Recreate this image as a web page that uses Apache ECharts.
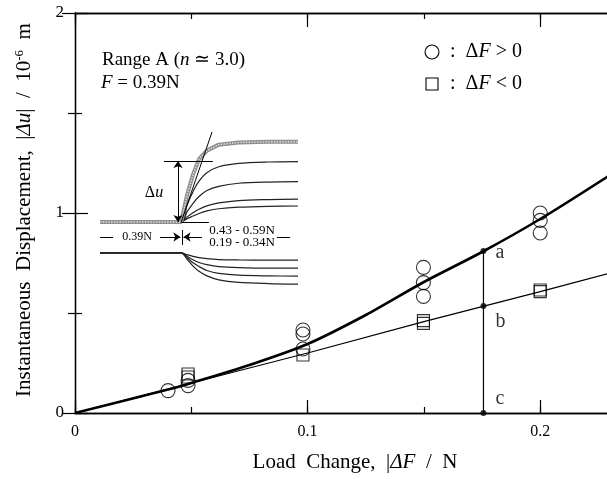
<!DOCTYPE html>
<html>
<head>
<meta charset="utf-8">
<script src="https://cdn.jsdelivr.net/npm/echarts@6/dist/echarts.min.js"></script>
<style>
html, body { margin: 0; padding: 0; background: #fff; }
#main { width: 607px; height: 479px; }
</style>
</head>
<body>
<div id="main"></div>
<script>
// 测点: ΔF > 0 (circles)
const riseLoad = [0.040, 0.0486, 0.0486, 0.098, 0.098, 0.098, 0.1498, 0.1498, 0.1498, 0.200, 0.200, 0.200];
const riseDisp = [0.112, 0.137, 0.163, 0.415, 0.395, 0.320, 0.728, 0.652, 0.583, 1.000, 0.963, 0.900];
// 测点: ΔF < 0 (squares)
const dropLoad = [0.0486, 0.0486, 0.098, 0.1498, 0.1498, 0.200, 0.200];
const dropDisp = [0.195, 0.180, 0.290, 0.462, 0.448, 0.615, 0.607];
// fitted curves
const riseFitLoad = [0, 0.04, 0.05, 0.075, 0.1, 0.125, 0.15, 0.175, 0.2, 0.23];
const riseFitDisp = [0, 0.117, 0.150, 0.240, 0.345, 0.490, 0.655, 0.805, 0.970, 1.190];
const dropFitLoad = [0, 0.05, 0.1, 0.15, 0.2, 0.23];
const dropFitDisp = [0, 0.150, 0.300, 0.457, 0.607, 0.700];
// a, b, c
const cutLoad = 0.1756;
const cutDisp = [0.81, 0.535, 0];
const cutNames = ['a', 'b', 'c'];

// inset traces (arbitrary units)
const traceTime = [0, 41, 44, 47, 50, 54, 60, 70, 85, 100];
const upGray = [40, 40, 56, 68, 77, 82, 85.5, 86.8, 87.2, 87.2];
const upTraces = [
    [40, 40, 50, 58, 64, 69, 72.5, 74.5, 75.3, 75.5],
    [40, 40, 46, 51, 55, 58.5, 61, 62.8, 63.5, 63.7],
    [40, 40, 43, 45.5, 47.5, 49.5, 51.2, 52.6, 53.2, 53.5],
    [40, 40, 42, 43.5, 45, 46.5, 47.8, 48.7, 49.2, 49.4]
];
const downTraces = [
    [21.8, 21.8, 20.8, 19.8, 19.0, 18.4, 17.9, 17.7, 17.6, 17.6],
    [21.8, 21.8, 19.8, 17.8, 16.2, 14.9, 13.8, 13.2, 12.9, 12.9],
    [21.8, 21.8, 19.0, 16.0, 13.8, 11.5, 9.8, 8.7, 8.3, 8.2],
    [21.8, 21.8, 18.0, 14.0, 11.0, 8.3, 6.0, 4.5, 3.8, 3.5]
];
const tangentLine = [[41, 40], [56.6, 93]];
const duArrow = [[39.4, 40], [39.4, 75.9]];
const guideLines = [
    [[32.3, 75.9], [57, 75.9]],
    [[41, 40], [55, 40]],
    [[0, 31.2], [6.6, 31.2]],
    [[89.4, 31.2], [96, 31.2]],
    [[41.4, 35.3], [41.4, 26.5]]
];
const loadArrows = [
    [[30.3, 31.2], [40.6, 31.2]],
    [[51.5, 31.2], [42.2, 31.2]]
];

const xMax = 0.23;
const serif = '"Liberation Serif", "Times New Roman", serif';
const zip = (a, b) => a.map((v, i) => [v, b[i]]);

const chart = echarts.init(document.getElementById('main'));

const black = { color: '#000', width: 1.2 };
function frameX(position, interval, len, label) {
    return {
        type: 'value', gridIndex: 0, position: position, min: 0, max: xMax, interval: interval,
        axisLine: { show: true, lineStyle: { color: '#000', width: 1.3 } },
        axisTick: { show: true, inside: true, length: len, lineStyle: black },
        axisLabel: {
            show: label, margin: 11, color: '#000', fontFamily: serif, fontSize: 16,
            formatter: v => Math.abs(v * 10 - Math.round(v * 10)) < 1e-6 ? String(+v.toFixed(1)) : ''
        },
        splitLine: { show: false }
    };
}
function frameY(position, label) {
    return {
        type: 'value', gridIndex: 0, position: position, min: 0, max: 2, interval: 1,
        axisLine: { show: true, lineStyle: { color: '#000', width: 1.3 } },
        axisTick: { show: true, inside: true, length: 13, lineStyle: black },
        minorTick: { show: true, splitNumber: 2, length: 7, lineStyle: black },
        axisLabel: { show: label, margin: 11, color: '#000', fontFamily: serif, fontSize: 17 },
        splitLine: { show: false }
    };
}
const hidden = { show: false };
function insetAxis(max) {
    return { type: 'value', gridIndex: 1, min: 0, max: max, show: false, splitLine: hidden };
}

const series = [
    {
        type: 'line', xAxisIndex: 0, yAxisIndex: 0, data: zip(riseFitLoad, riseFitDisp),
        smooth: 0.3, symbol: 'none', lineStyle: { color: '#000', width: 2.6 }, z: 3
    },
    {
        type: 'line', xAxisIndex: 0, yAxisIndex: 0, data: zip(dropFitLoad, dropFitDisp),
        symbol: 'none', lineStyle: { color: '#000', width: 1.2 }, z: 3
    },
    {
        type: 'line', xAxisIndex: 0, yAxisIndex: 0,
        data: [[cutLoad, cutDisp[2]], [cutLoad, cutDisp[0]]],
        symbol: 'none', lineStyle: { color: '#000', width: 1.2 }, z: 3
    },
    {
        type: 'scatter', xAxisIndex: 0, yAxisIndex: 0, data: zip(riseLoad, riseDisp),
        symbol: 'circle', symbolSize: 14,
        itemStyle: { color: 'rgba(255,255,255,0)', borderColor: '#000', borderWidth: 1.1 }, z: 4
    },
    {
        type: 'scatter', xAxisIndex: 0, yAxisIndex: 0, data: zip(dropLoad, dropDisp),
        symbol: 'rect', symbolSize: 12,
        itemStyle: { color: 'rgba(255,255,255,0)', borderColor: '#000', borderWidth: 1.1 }, z: 4
    },
    {
        type: 'scatter', xAxisIndex: 0, yAxisIndex: 0, symbolSize: 6,
        itemStyle: { color: '#000' }, z: 5,
        data: cutDisp.map((d, i) => ({
            value: [cutLoad, d],
            label: {
                show: true, position: 'right', distance: 9, formatter: cutNames[i],
                offset: [[0, 2], [0, 16], [0, -14]][i],
                color: '#000', fontFamily: serif, fontSize: 20
            }
        }))
    }
];
// inset: black traces first, grey reference trace on top
upTraces.concat(downTraces).forEach(tr => {
    series.push({
        type: 'line', xAxisIndex: 4, yAxisIndex: 2, data: zip(traceTime, tr),
        smooth: 0.3, symbol: 'none', lineStyle: { color: '#222', width: 1.2 }, z: 2
    });
});
series.push({
    type: 'line', xAxisIndex: 4, yAxisIndex: 2, data: zip(traceTime, upGray),
    symbol: 'none', lineStyle: { color: '#8e8e8e', width: 4 }, z: 3
});
series.push({
    type: 'line', xAxisIndex: 4, yAxisIndex: 2, data: zip(traceTime, upGray),
    symbol: 'none', lineStyle: { color: '#e4e4e4', width: 1.4, type: 'dotted' }, z: 3
});
series.push({
    type: 'lines', coordinateSystem: 'cartesian2d', xAxisIndex: 4, yAxisIndex: 2,
    symbol: 'none', lineStyle: { color: '#000', width: 1, opacity: 1 }, z: 4,
    data: [tangentLine].concat(guideLines).map(c => ({ coords: c }))
});
series.push({
    type: 'lines', coordinateSystem: 'cartesian2d', xAxisIndex: 4, yAxisIndex: 2,
    symbol: ['none', 'arrow'], symbolSize: 7, lineStyle: { color: '#000', width: 1, opacity: 1 }, z: 4,
    data: loadArrows.map(c => ({ coords: c }))
});
series.push({
    type: 'lines', coordinateSystem: 'cartesian2d', xAxisIndex: 4, yAxisIndex: 2,
    symbol: ['arrow', 'arrow'], symbolSize: 7, lineStyle: { color: '#000', width: 1, opacity: 1 }, z: 4,
    data: [{ coords: duArrow }]
});

const txt = (x, y, text, size, align, extra) => Object.assign({
    type: 'text', x: x, y: y, z: 10,
    style: {
        text: text, fill: '#000', font: size + 'px ' + serif,
        align: align, textAlign: align, verticalAlign: 'middle', textVerticalAlign: 'middle',
        rich: {
            r: { fontFamily: serif, fontSize: size },
            i: { fontFamily: serif, fontSize: size, fontStyle: 'italic' },
            s: { fontFamily: serif, fontSize: Math.round(size * 0.62), verticalAlign: 'top', lineHeight: size }
        }
    }
}, extra || {});

chart.setOption({
    animation: false,
    backgroundColor: '#fff',
    grid: [
        { left: 75, top: 13, width: 535, height: 400, outerBoundsMode: 'none' },
        { left: 100, top: 120, width: 198, height: 170, outerBoundsMode: 'none' }
    ],
    xAxis: [
        frameX('bottom', 0.1, 13, true),
        frameX('bottom', 0.05, 6, false),
        frameX('top', 0.1, 14, false),
        frameX('top', 0.05, 6, false),
        insetAxis(100)
    ],
    yAxis: [frameY('left', true), frameY('right', false), insetAxis(100)],
    series: series,
    graphic: [
        txt(355, 462, '{r|Load  Change,  |}{i|ΔF}{r|  /  N}', 21, 'center'),
        txt(24, 210, '{r|Instantaneous  Displacement,  |}{i|Δu}{r||  /  10}{s|-6}{r|  m}', 21, 'center',
            { rotation: Math.PI / 2 }),
        txt(102, 60, '{r|Range A (}{i|n}{r| ≃ 3.0)}', 19, 'left'),
        txt(101, 83, '{i|F}{r| = 0.39N}', 19, 'left'),
        { type: 'circle', z: 10, shape: { cx: 432, cy: 52, r: 7 }, style: { fill: 'none', stroke: '#000', lineWidth: 1.1 } },
        { type: 'rect', z: 10, shape: { x: 426, y: 78, width: 12, height: 12 }, style: { fill: 'none', stroke: '#000', lineWidth: 1.1 } },
        txt(450, 52, '{r|:  Δ}{i|F}{r| > 0}', 20, 'left'),
        txt(450, 84, '{r|:  Δ}{i|F}{r| < 0}', 20, 'left'),
        txt(154, 193, '{r|Δ}{i|u}', 16, 'center'),
        txt(137, 237, '0.39N', 12, 'center'),
        txt(242, 231, '0.43 - 0.59N', 13, 'center'),
        txt(242, 243, '0.19 - 0.34N', 13, 'center')
    ]
});
</script>
</body>
</html>
